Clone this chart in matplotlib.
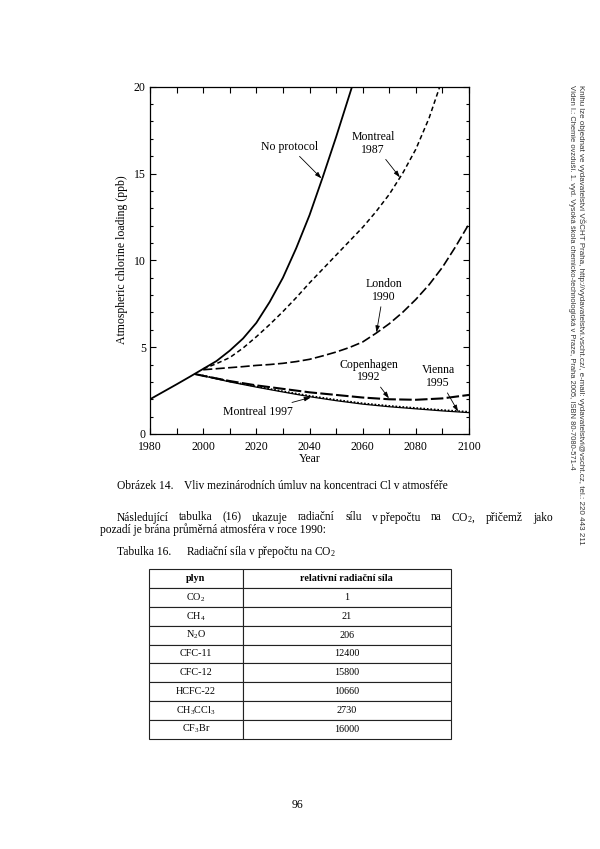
import matplotlib
matplotlib.use('Agg')
import matplotlib.pyplot as plt
from matplotlib.ticker import MultipleLocator

plt.rcParams['font.family'] = ['Liberation Serif', 'DejaVu Serif']
plt.rcParams['mathtext.fontset'] = 'custom'
plt.rcParams['mathtext.rm'] = 'Liberation Serif'
plt.rcParams['mathtext.it'] = 'Liberation Serif:italic'
plt.rcParams['mathtext.bf'] = 'Liberation Serif:bold'

# ---------------- data ----------------
years_np = [1980, 1985, 1990, 1995, 2000, 2005, 2010, 2015, 2020, 2025, 2030,
            2035, 2040, 2045, 2050, 2056]
no_protocol = [2.0, 2.43, 2.86, 3.3, 3.75, 4.2, 4.8, 5.5, 6.4, 7.6, 9.0,
               10.7, 12.6, 14.8, 17.1, 20.0]

years_m87 = [2000, 2005, 2010, 2015, 2020, 2025, 2030, 2035, 2040, 2045, 2050,
             2055, 2060, 2065, 2070, 2075, 2080, 2085, 2089]
montreal_1987 = [3.75, 4.05, 4.4, 4.95, 5.6, 6.3, 7.05, 7.85, 8.7, 9.5, 10.3,
                 11.1, 11.9, 12.8, 13.8, 15.0, 16.4, 18.2, 20.0]

years_l90 = [2000, 2005, 2010, 2015, 2020, 2025, 2030, 2035, 2040, 2045, 2050,
             2055, 2060, 2065, 2070, 2075, 2080, 2085, 2090, 2095, 2100]
london_1990 = [3.7, 3.76, 3.82, 3.88, 3.95, 4.0, 4.07, 4.17, 4.3, 4.5, 4.72,
               4.98, 5.3, 5.8, 6.35, 7.0, 7.75, 8.6, 9.6, 10.8, 12.1]

years_low = [1997, 2000, 2010, 2020, 2030, 2040, 2050, 2060, 2070, 2080, 2090, 2100]
copenhagen_1992 = [3.45, 3.35, 3.05, 2.8, 2.6, 2.4, 2.25, 2.1, 2.0, 1.97, 2.05, 2.25]
vienna_1995 = [3.45, 3.37, 3.03, 2.74, 2.46, 2.2, 1.97, 1.77, 1.62, 1.5, 1.38, 1.28]
montreal_1997 = [3.45, 3.35, 3.0, 2.7, 2.42, 2.15, 1.92, 1.72, 1.57, 1.45, 1.33, 1.23]

x_ticks = [1980, 2000, 2020, 2040, 2060, 2080, 2100]
y_ticks = [0, 5, 10, 15, 20]

caption = ['Obrázek 14.', 'Vliv mezinárodních úmluv na koncentraci Cl v atmosféře']
para_line1 = ['Následující', 'tabulka', '(16)', 'ukazuje', 'radiační', 'sílu',
              'v\u2009přepočtu', 'na', 'CO$_\\mathrm{2}$,', 'přičemž', 'jako']
para_line2 = 'pozadí je brána průměrná atmosféra v roce 1990:'
table_title = ['Tabulka 16.', 'Radiační síla v přepočtu na CO$_\\mathrm{2}$']
table_header = ['plyn', 'relativní radiační síla']
gases = ['CO$_\\mathrm{2}$', 'CH$_\\mathrm{4}$', 'N$_\\mathrm{2}$O', 'CFC-11', 'CFC-12',
         'HCFC-22', 'CH$_\\mathrm{3}$CCl$_\\mathrm{3}$', 'CF$_\\mathrm{3}$Br']
forcing = ['1', '21', '206', '12400', '15800', '10660', '2730', '16000']
side_lines = ['Víden I.: Chemie ovzduší. 1. vyd. Vysoká škola chemicko-technologická v Praze, '
              'Praha 2005, ISBN 80-7080-571-4',
              'Knihu lze objednat ve vydavatelství VŠCHT Praha, http://vydavatelstvi.vscht.cz/, '
              'e-mail: vydavatelstvi@vscht.cz, tel.: 220 443 211']
page_number = '96'

# ---------------- figure ----------------
W, H = 600, 849
fig = plt.figure(figsize=(6, 8.49), dpi=100)
renderer = fig.canvas.get_renderer()


def fx(px):
    return px / W


def fy(py):
    return 1 - py / H


ax = fig.add_axes([fx(150), fy(434), fx(469) - fx(150), fy(86.7) - fy(434)])
ax.plot(years_np, no_protocol, color='black', lw=1.3, solid_capstyle='butt')
ax.plot(years_m87, montreal_1987, color='black', lw=1.1, dashes=(3, 2))
ax.plot(years_l90, london_1990, color='black', lw=1.2, dashes=(5.5, 2))
ax.plot(years_low, copenhagen_1992, color='black', lw=1.5, dashes=(6, 1.6))
ax.plot(years_low, vienna_1995, color='black', lw=1.2, dashes=(1, 1.1))
ax.plot(years_low, montreal_1997, color='black', lw=0.9)

ax.set_xlim(1980, 2100)
ax.set_ylim(0, 20)
ax.set_xticks(x_ticks)
ax.set_yticks(y_ticks)
ax.xaxis.set_minor_locator(MultipleLocator(10))
ax.yaxis.set_minor_locator(MultipleLocator(1))
ax.tick_params(which='both', direction='in', top=True, right=True, width=0.8,
               labelsize=8.5, pad=3)
ax.tick_params(axis='x', which='major', pad=4.8)
ax.tick_params(which='major', length=4.5)
ax.tick_params(axis='x', which='minor', length=4)
ax.tick_params(axis='y', which='minor', length=2.5)
for s in ax.spines.values():
    s.set_linewidth(0.9)

ax.set_xlabel('Year', fontsize=8.5)
ax.xaxis.set_label_coords(0.5016, -0.056)
ax.set_ylabel('Atmospheric chlorine loading (ppb)', fontsize=8.5)
ax.yaxis.label.set_verticalalignment('center')
ax.yaxis.set_label_coords(-0.0887, 0.501)

arrow = dict(arrowstyle='-|>,head_length=0.45,head_width=0.15', color='black',
             lw=0.6, shrinkA=1, shrinkB=0)
labels = [
    ('No protocol', (2032.6, 16.55), (2044.5, 14.72)),
    ('Montreal\n1987', (2063.9, 16.74), (2074.0, 14.78)),
    ('London\n1990', (2067.9, 8.27), (2065.2, 5.85)),
    ('Copenhagen\n1992', (2062.2, 3.63), (2069.9, 2.05)),
    ('Vienna\n1995', (2088.4, 3.30), (2095.9, 1.29)),
    ('Montreal 1997', (2020.7, 1.29), (2040.5, 2.11)),
]
for txt, tpos, tip in labels:
    ax.annotate(txt, xy=tip, xytext=tpos, ha='center', va='center', fontsize=8.5,
                multialignment='center', linespacing=1.05, arrowprops=arrow)

# ---------------- page text ----------------
TS = 8.3
fig.text(fx(117), fy(489), caption[0], fontsize=TS, va='baseline')
fig.text(fx(184), fy(489), caption[1], fontsize=TS, va='baseline')

x0, x1 = 117, 553
words = [fig.text(0, fy(520.5), w, fontsize=TS, va='baseline', ha='left') for w in para_line1]
widths = [t.get_window_extent(renderer).width for t in words]
gap = (x1 - x0 - sum(widths)) / (len(words) - 1)
xp = x0
for t, w in zip(words, widths):
    t.set_x(fx(xp))
    xp += w + gap
fig.text(fx(100), fy(532.5), para_line2, fontsize=TS, va='baseline')

fig.text(fx(117), fy(555), table_title[0], fontsize=TS, va='baseline')
fig.text(fx(186), fy(555), table_title[1], fontsize=TS, va='baseline')

tax = fig.add_axes([fx(149), fy(738.5), fx(451) - fx(149), fy(569.5) - fy(738.5)])
tax.axis('off')
tbl = tax.table(cellText=[[g, v] for g, v in zip(gases, forcing)], colLabels=table_header,
                colWidths=[0.31, 0.69], bbox=[0, 0, 1, 1], cellLoc='center')
tbl.auto_set_font_size(False)
tbl.set_fontsize(7.3)
for (r, c), cell in tbl.get_celld().items():
    cell.set_linewidth(0.8)
    cell.set_edgecolor('#222222')
    if r == 0:
        cell.get_text().set_fontweight('bold')

fig.text(fx(297), fy(808), page_number, fontsize=8.5, ha='center', va='baseline')

# side imprint, sized so each line spans the same length as in the page
side_x = [572, 581.5]
side_len = [383, 462]
for xs, line, target in zip(side_x, side_lines, side_len):
    t = fig.text(fx(xs), fy(85), line, rotation=-90, ha='center', va='top',
                 fontsize=5.2, family=['Liberation Sans', 'DejaVu Sans'], color='#333333')
    h = t.get_window_extent(renderer).height
    t.set_fontsize(5.2 * target / h)

fig.savefig('out.png', dpi=100)
